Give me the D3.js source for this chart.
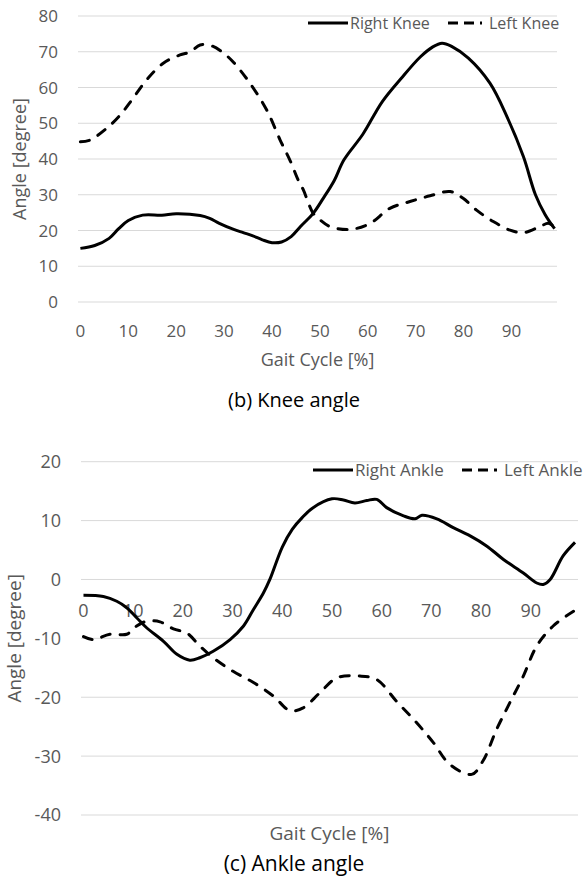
<!DOCTYPE html>
<html>
<head>
<meta charset="utf-8">
<script src="https://cdn.jsdelivr.net/npm/d3@7"></script>
<style>
  body { margin: 0; background: #fff; }
  text { font-family: "Open Sans", sans-serif; }
</style>
</head>
<body>
<div id="wrapper"></div>
<script>
// ---- data (gait cycle %, angle in degrees) ----
const rightKneeCycle = [0, 3, 6, 8, 10, 13, 17, 20, 25, 27, 29, 32, 34, 36, 38, 40, 42, 44, 46, 48.6, 50.7, 53, 55, 59, 63, 67, 71, 73.5, 75.5, 77.5, 81, 85.5, 89, 92.5, 95, 97, 99]
const rightKnee = [15.0, 15.8, 17.8, 20.5, 22.8, 24.3, 24.3, 24.7, 24.2, 23.4, 22.0, 20.3, 19.4, 18.5, 17.4, 16.6, 16.8, 18.3, 21.2, 24.8, 29, 34, 39.7, 47, 56, 62.6, 68.6, 71.3, 72.4, 71.5, 68.2, 61.2, 52, 40.6, 30, 24.5, 20.5]

const leftKneeCycle = [0, 2, 5.5, 8.3, 11, 13.8, 17.3, 20.8, 23, 25, 27.5, 30, 32, 35.4, 38.9, 41.7, 43.8, 45.5, 46.5, 48.6, 50, 52.1, 56.3, 60.5, 64.6, 68.8, 73, 77.2, 79.9, 82.7, 86.2, 89.7, 92.5, 95.9, 97.7, 99]
const leftKnee = [44.8, 45.3, 48.6, 52.3, 57, 62.1, 66.8, 69.1, 70, 71.9, 71.6, 69.5, 67, 61.2, 53.7, 45.3, 39.5, 34, 31.5, 24.8, 23, 21.1, 20.3, 22, 26.2, 28.1, 29.7, 30.9, 29, 25.7, 22.5, 20.1, 19.4, 21.1, 22, 21]

const rightAnkleCycle = [0, 4, 6.7, 8.7, 10.7, 12.7, 16.1, 18.8, 21.4, 23.4, 26.1, 29.5, 32.2, 34.2, 36.2, 37.5, 40, 42, 44, 46.2, 50, 52.3, 54.6, 57, 59, 61, 64.4, 66.7, 68.1, 71.1, 74.4, 77.8, 81.1, 84.5, 88.5, 91.2, 92.5, 93.9, 96.5, 98.9]
const rightAnkle = [-2.7, -2.9, -3.7, -4.8, -6.5, -8.2, -10.5, -12.7, -13.7, -13.3, -12.2, -10.2, -7.9, -5.1, -2.3, 0, 5.5, 8.5, 10.5, 12.2, 13.7, 13.5, 13.0, 13.4, 13.6, 12.2, 10.8, 10.3, 10.9, 10.3, 8.8, 7.4, 5.7, 3.4, 1.1, -0.6, -0.85, 0, 4.0, 6.3]

const leftAnkleCycle = [0, 2, 5.3, 8.7, 10.7, 12.7, 15.4, 18.1, 20.8, 23.4, 26.1, 30.1, 34.2, 38.2, 41.6, 44.2, 47.6, 51, 55.6, 59, 63, 67, 70.4, 73.7, 78.1, 80.4, 83.1, 85.8, 88.5, 91.2, 94.5, 98.6]
const leftAnkle = [-9.7, -10.2, -9.3, -9.3, -7.9, -7.1, -7.2, -8.4, -9.1, -11.3, -13.3, -15.6, -17.5, -19.8, -22.3, -21.8, -19.2, -16.7, -16.4, -17.0, -20.7, -24.3, -27.7, -31.4, -33.1, -30.8, -25.5, -20.9, -16.4, -11.3, -7.9, -5.4]

const xTicks = [0, 10, 20, 30, 40, 50, 60, 70, 80, 90]
const kneeYTicks = [0, 10, 20, 30, 40, 50, 60, 70, 80]
const ankleYTicks = [-40, -30, -20, -10, 0, 10, 20]

const gray = "#595959"
const gridColor = "#d9d9d9"

const svg = d3.select("#wrapper")
  .append("svg")
    .attr("width", 588)
    .attr("height", 879)

const zip = (xs, ys) => xs.map((x, i) => [x, ys[i]])

function drawChart(c) {
  const xScale = d3.scaleLinear()
    .domain([-0.5, 99.5])
    .range([c.left, c.right])
  const yScale = d3.scaleLinear()
    .domain(d3.extent(c.yTicks))
    .range([c.bottom, c.top])

  const g = svg.append("g")

  // gridlines
  g.selectAll(".grid")
    .data(c.yTicks)
    .enter().append("line")
      .attr("x1", c.left)
      .attr("x2", c.right)
      .attr("y1", d => yScale(d))
      .attr("y2", d => yScale(d))
      .attr("stroke", gridColor)
      .attr("stroke-width", 1)

  // y labels
  g.selectAll(".ylab")
    .data(c.yTicks)
    .enter().append("text")
      .attr("x", c.left - 20)
      .attr("y", d => yScale(d))
      .attr("dy", "0.36em")
      .attr("text-anchor", "end")
      .attr("fill", gray)
      .style("font-size", c.tickSize + "px")
      .text(d => d)

  // x labels
  g.selectAll(".xlab")
    .data(xTicks)
    .enter().append("text")
      .attr("x", d => xScale(d))
      .attr("y", c.xLabelY)
      .attr("dy", "0.36em")
      .attr("text-anchor", "middle")
      .attr("fill", gray)
      .style("font-size", c.tickSize + "px")
      .text(d => d)

  // axis titles
  g.append("text")
    .attr("x", (c.left + c.right) / 2)
    .attr("y", c.xTitleY)
    .attr("text-anchor", "middle")
    .attr("fill", gray)
    .style("font-size", c.titleSize + "px")
    .text("Gait Cycle [%]")

  g.append("text")
    .attr("transform", `translate(${c.yTitleX}, ${(c.top + c.bottom) / 2}) rotate(-90)`)
    .attr("text-anchor", "middle")
    .attr("dy", "0.36em")
    .attr("fill", gray)
    .style("font-size", c.titleSize + "px")
    .text("Angle [degree]")

  // caption
  g.append("text")
    .attr("x", 294)
    .attr("y", c.captionY)
    .attr("text-anchor", "middle")
    .attr("fill", "#000")
    .style("font-size", c.captionSize + "px")
    .text(c.caption)

  const line = d3.line()
    .x(d => xScale(d[0]))
    .y(d => yScale(d[1]))
    .curve(d3.curveCatmullRom.alpha(0.5))

  g.append("path")
    .datum(c.dashed)
    .attr("d", line)
    .attr("fill", "none")
    .attr("stroke", "#000")
    .attr("stroke-width", 3)
    .attr("stroke-dasharray", "9,10")
    .attr("stroke-linecap", "round")

  g.append("path")
    .datum(c.solid)
    .attr("d", line)
    .attr("fill", "none")
    .attr("stroke", "#000")
    .attr("stroke-width", 3)
    .attr("stroke-linejoin", "round")

  // legend
  const lg = g.append("g")
  lg.append("line")
    .attr("x1", c.legend.solidX[0]).attr("x2", c.legend.solidX[1])
    .attr("y1", c.legend.y).attr("y2", c.legend.y)
    .attr("stroke", "#000").attr("stroke-width", 3)
  lg.append("text")
    .attr("x", c.legend.solidX[1] + 2)
    .attr("y", c.legend.y)
    .attr("dy", "0.36em")
    .attr("fill", gray)
    .style("font-size", c.legendSize + "px")
    .text(c.legend.names[0])
  lg.append("line")
    .attr("x1", c.legend.dashX[0]).attr("x2", c.legend.dashX[1])
    .attr("y1", c.legend.y).attr("y2", c.legend.y)
    .attr("stroke", "#000").attr("stroke-width", 3)
    .attr("stroke-dasharray", "10,6")
  lg.append("text")
    .attr("x", c.legend.dashX[1] + 7)
    .attr("y", c.legend.y)
    .attr("dy", "0.36em")
    .attr("fill", gray)
    .style("font-size", c.legendSize + "px")
    .text(c.legend.names[1])
}

drawChart({
  left: 78, right: 557, top: 16, bottom: 302,
  yTicks: kneeYTicks,
  tickSize: 17, titleSize: 18, legendSize: 16, captionSize: 20,
  xLabelY: 331, xTitleY: 366, yTitleX: 20, captionY: 407,
  caption: "(b) Knee angle",
  solid: zip(rightKneeCycle, rightKnee),
  dashed: zip(leftKneeCycle, leftKnee),
  legend: { y: 23, solidX: [308, 348], dashX: [448, 482], names: ["Right Knee", "Left Knee"] }
})

drawChart({
  left: 81, right: 578, top: 461.7, bottom: 815,
  yTicks: ankleYTicks,
  tickSize: 18, titleSize: 19, legendSize: 17, captionSize: 21,
  xLabelY: 611, xTitleY: 840, yTitleX: 14, captionY: 871,
  caption: "(c) Ankle angle",
  solid: zip(rightAnkleCycle, rightAnkle),
  dashed: zip(leftAnkleCycle, leftAnkle),
  legend: { y: 470, solidX: [313, 353], dashX: [462, 497], names: ["Right Ankle", "Left Ankle"] }
})
</script>
</body>
</html>
